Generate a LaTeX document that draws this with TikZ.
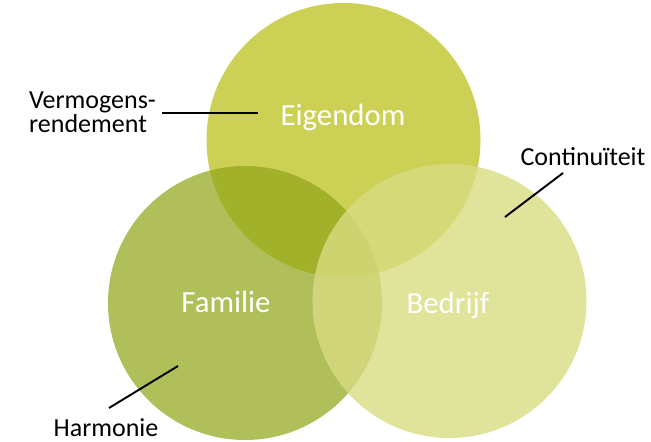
\documentclass[tikz,border=0pt]{standalone}
\usepackage{fontspec}
\setmainfont{Carlito}
\usetikzlibrary{calc}

\definecolor{eigen}{HTML}{CCD055}
\definecolor{fam}{HTML}{91A61A}
\definecolor{bedr}{HTML}{D8DC81}

\begin{document}
\begin{tikzpicture}

\useasboundingbox (0,0) rectangle (13.02,8.84);

\coordinate (E) at (6.87,6.04);
\coordinate (F) at (4.90,2.78);
\coordinate (B) at (8.99,2.82);

\fill[eigen] (E) circle (2.74);
\fill[fam, fill opacity=0.72] (F) circle (2.74);
\fill[bedr, fill opacity=0.8] (B) circle (2.74);

\node (eigendom) at (6.86,6.50) {\color{white}\fontsize{17.5}{20}\selectfont Eigendom};
\node (familie) at (4.52,2.80) {\color{white}\fontsize{17.5}{20}\selectfont Familie};
\node (bedrijf) at (8.96,2.74) {\color{white}\fontsize{17.5}{20}\selectfont Bedrijf};

\node (vermogens) at (0.46,6.60) [anchor=west, align=left, font=\fontsize{14.8}{13.5}\selectfont] {Vermogens-\\rendement};
\node (continuiteit) at (11.66,5.70) [font=\fontsize{14.8}{13.5}\selectfont] {Continuïteit};
\node (harmonie) at (2.12,0.28) [font=\fontsize{14.8}{13.5}\selectfont] {Harmonie};

\coordinate (vEnd) at (5.16,6.58);
\coordinate (cStart) at (11.26,5.38);
\coordinate (cEnd) at (10.10,4.50);
\coordinate (hStart) at (2.18,0.68);
\coordinate (hEnd) at (3.56,1.52);

\draw[black,line width=1.1pt] (vermogens.east |- vEnd)--(vEnd);
\draw[black,line width=1.1pt] (cStart)--(cEnd);
\draw[black,line width=1.1pt] (hStart)--(hEnd);

\end{tikzpicture}
\end{document}
